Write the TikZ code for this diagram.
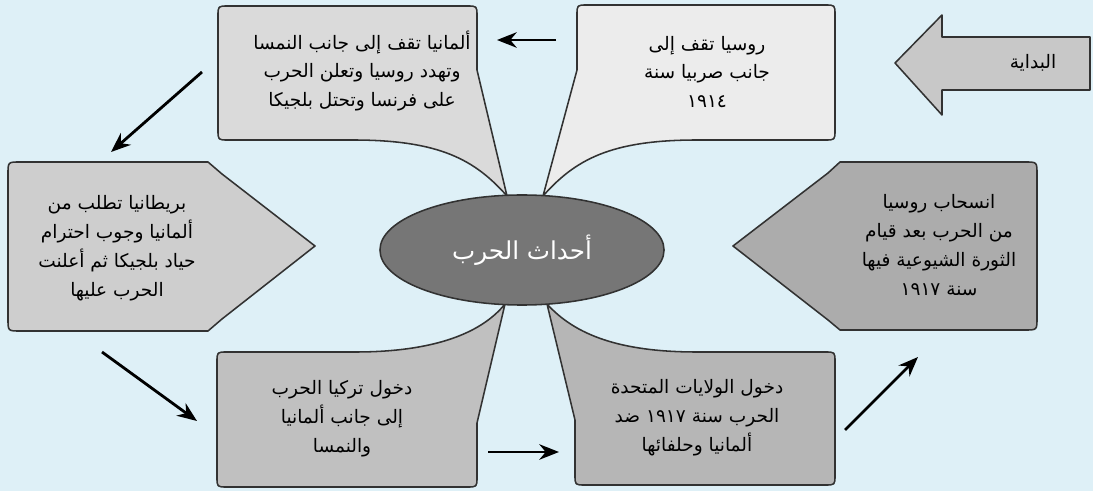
\documentclass[tikz,border=0pt]{standalone}
\usepackage{fontspec}
\usepackage{tikz}
\usetikzlibrary{arrows.meta, shapes.geometric}
\TeXXeTstate=1
\newfontfamily\arabicfont[Script=Arabic]{DejaVu Sans}
\newcommand{\rl}[1]{\beginR #1\endR}
\definecolor{bgblue}{RGB}{222,240,247}
\definecolor{edge}{RGB}{50,50,50}
\definecolor{fillRus}{RGB}{236,236,236}
\definecolor{fillGer}{RGB}{218,218,218}
\definecolor{fillBri}{RGB}{206,206,206}
\definecolor{fillTur}{RGB}{192,192,192}
\definecolor{fillUsa}{RGB}{182,182,182}
\definecolor{fillOut}{RGB}{172,172,172}
\definecolor{fillStart}{RGB}{200,200,200}
\definecolor{fillEvents}{RGB}{118,118,118}

\tikzset{
    bubble/.style={draw=edge, line width=1.1pt, line join=round},
    txt/.style={align=center, inner sep=0pt, font=\arabicfont\fontsize{13.2}{20.5}\selectfont},
    flow/.style={line width=2pt, -{Stealth[length=14pt, width=11pt]}}
}

\begin{document}
\begin{tikzpicture}[x=0.025cm, y=-0.025cm]
    \fill [bgblue] (0,0) rectangle (1093,491);
    \useasboundingbox (0,0) rectangle (1093,491);

    % start arrow
    \draw [bubble, fill=fillStart] (895,63) -- (942,15) -- (942,37) -- (1090,37) -- (1090,90) -- (942,90) -- (942,115) -- cycle;
    \node [txt] (start) at (1033,63) {\rl{البداية}};

    % callouts round the centre
    \draw [bubble, fill=fillRus] (697,140) -- (825,140) .. controls (835,140) .. (835,130) -- (835,15) .. controls (835,5) .. (825,5) -- (587,5) .. controls (577,5) .. (577,15) -- (577,70) -- (543,196) .. controls (575,160) and (610,140) .. (697,140) -- cycle;
    \draw [bubble, fill=fillGer] (353,140) -- (228,140) .. controls (218,140) .. (218,130) -- (218,16) .. controls (218,6) .. (228,6) -- (467,6) .. controls (477,6) .. (477,16) -- (477,70) -- (507,196) .. controls (475,160) and (440,140) .. (353,140) -- cycle;
    \draw [bubble, fill=fillBri] (20,162) -- (208,162) -- (222,174) -- (315,246) -- (222,319) -- (208,331) -- (20,331) .. controls (8,331) .. (8,319) -- (8,174) .. controls (8,162) .. (20,162) -- cycle;
    \draw [bubble, fill=fillTur] (355,352) -- (227,352) .. controls (217,352) .. (217,362) -- (217,477) .. controls (217,487) .. (227,487) -- (467,487) .. controls (477,487) .. (477,477) -- (477,423) -- (505,304) .. controls (480,335) and (430,352) .. (355,352) -- cycle;
    \draw [bubble, fill=fillUsa] (697,352) -- (825,352) .. controls (835,352) .. (835,362) -- (835,475) .. controls (835,485) .. (825,485) -- (585,485) .. controls (575,485) .. (575,475) -- (575,420) -- (547,304) .. controls (575,335) and (620,352) .. (697,352) -- cycle;
    \draw [bubble, fill=fillOut] (840,162) -- (1025,162) .. controls (1037,162) .. (1037,174) -- (1037,318) .. controls (1037,330) .. (1025,330) -- (840,330) -- (828,320) -- (733,246) -- (828,173) -- cycle;

    \node [ellipse, draw=edge, line width=1.1pt, fill=fillEvents, minimum width=7.1cm, minimum height=2.75cm, inner sep=0pt,
           text=white, font=\arabicfont\fontsize{17.5}{21}\selectfont] (events) at (522,250) {\rl{أحداث الحرب}};

    \node [txt] (russia) at (707,72) {\rl{روسيا تقف إلى}\\\rl{جانب صربيا سنة}\\\rl{١٩١٤}};
    \node [txt] (germany) at (362,71) {\rl{ألمانيا تقف إلى جانب النمسا}\\\rl{وتهدد روسيا وتعلن الحرب}\\\rl{على فرنسا وتحتل بلجيكا}};
    \node [txt] (britain) at (117,248) {\rl{بريطانيا تطلب من}\\\rl{ألمانيا وجوب احترام}\\\rl{حياد بلجيكا ثم أعلنت}\\\rl{الحرب عليها}};
    \node [txt] (turkey) at (342,419) {\rl{دخول تركيا الحرب}\\\rl{إلى جانب ألمانيا}\\\rl{والنمسا}};
    \node [txt] (usa) at (697,418) {\rl{دخول الولايات المتحدة}\\\rl{الحرب سنة ١٩١٧ ضد}\\\rl{ألمانيا وحلفائها}};
    \node [txt] (withdraw) at (939,245) {\rl{انسحاب روسيا}\\\rl{من الحرب بعد قيام}\\\rl{الثورة الشيوعية فيها}\\\rl{سنة ١٩١٧}};

    % order of events
    \coordinate (r2g) at (556,40);   \coordinate (g1) at (497,40);
    \coordinate (g2b) at (202,72);   \coordinate (b1) at (111,152);
    \coordinate (b2t) at (102,352);  \coordinate (t1) at (197,421);
    \coordinate (t2u) at (488,452);  \coordinate (u1) at (559,452);
    \coordinate (u2w) at (845,430);  \coordinate (w1) at (918,357);
    \draw [flow] (r2g) -- (g1);
    \draw [flow] (g2b) -- (b1);
    \draw [flow] (b2t) -- (t1);
    \draw [flow] (t2u) -- (u1);
    \draw [flow] (u2w) -- (w1);
\end{tikzpicture}
\end{document}
